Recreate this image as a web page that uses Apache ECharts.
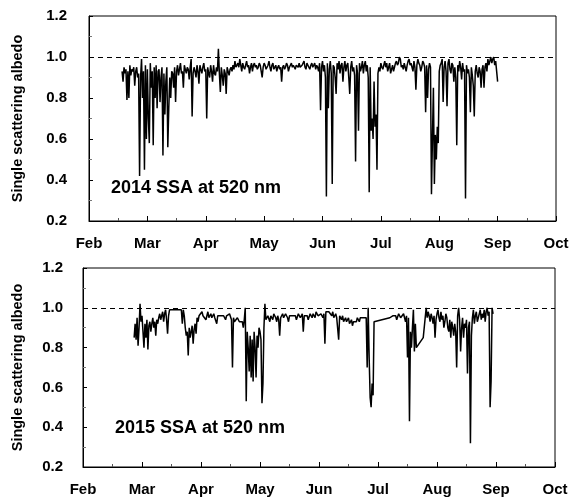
<!DOCTYPE html>
<html>
<head>
<meta charset="utf-8">
<script src="https://cdn.jsdelivr.net/npm/echarts@6/dist/echarts.min.js"></script>
<style>
html,body{margin:0;padding:0;background:#fff;}
#chart{width:573px;height:497px;}
</style>
</head>
<body>
<div id="chart"></div>
<script>
// Month tick labels (axis runs in days since 1 Feb, one label every 30 days)
var monthLabels = ['Feb','Mar','Apr','May','Jun','Jul','Aug','Sep','Oct'];
var yTicks = [0.2, 0.4, 0.6, 0.8, 1.0, 1.2];
var yAxisTitle = 'Single scattering albedo';
var panelLabels = ['2014 SSA at 520 nm', '2015 SSA at 520 nm'];
var referenceLevel = 1.0;

// 2014 SSA, samples every half day starting day 17 after 1 Feb
var ssa2014Start = 17;
var ssa2014Step = 0.5;
var ssa2014 = [
 0.93,0.88, 0.95,0.92, 0.94,0.79, 0.93,0.80, 0.96,0.91,
 0.94,0.93, 0.95,0.86, 0.93,0.95, 0.90,0.92, 0.42,0.90,
 0.99,0.80, 0.93,0.45, 0.96,0.60, 0.94,0.70, 0.58,0.97,
 0.85,0.93, 0.57,0.95, 0.80,0.96, 0.75,0.93, 0.94,0.78,
 0.90,0.95, 0.52,0.92, 0.72,0.88, 0.95,0.56, 0.75,0.90,
 0.80,0.93, 0.92,0.85, 0.95,0.78, 0.93,0.96, 0.91,0.94,
 0.97,0.92, 0.93,0.85, 0.96,0.94, 0.92,0.95, 0.94,0.89,
 0.95,0.99, 0.71,0.92, 0.95,0.93, 0.90,0.96, 0.93,0.87,
 0.96,0.94, 0.92,0.95, 0.97,0.93, 0.94,0.70, 0.95,0.92,
 0.90,0.96, 0.93,0.88, 0.96,0.92, 0.91,0.95, 0.93,1.04,
 0.92,0.83, 0.95,0.91, 0.86,0.94, 0.92,0.82, 0.95,0.93,
 0.91,0.94, 0.95,0.93, 0.96,0.94, 0.98,0.95, 0.96,0.97,
 0.95,0.99, 0.96,0.93, 0.97,0.95, 0.94,0.96, 0.98,0.95,
 0.96,0.92, 0.95,0.97, 0.93,0.96, 0.97,0.95, 0.96,0.94,
 0.95,0.97, 0.96,0.93, 0.90,0.95, 0.97,0.96, 0.94,0.95,
 0.96,0.98, 0.95,0.93, 0.96,0.97, 0.94,0.95, 0.96,0.93,
 0.95,0.96, 0.94,0.95, 0.88,0.95, 0.96,0.94, 0.95,0.97,
 0.96,0.93, 0.95,0.96, 0.97,0.95, 0.96,0.95, 0.94,0.96,
 0.96,0.95, 0.97,0.95, 0.95,0.96, 0.96,0.98, 0.95,0.94,
 0.97,0.96, 0.95,0.94, 0.96,0.97, 0.95,0.96, 0.97,0.94,
 0.96,0.95, 0.93,0.97, 0.74,0.95, 0.98,0.93, 0.96,0.90,
 0.32,0.97, 0.75,0.94, 0.98,0.92, 0.38,0.96, 0.95,0.90,
 0.82,0.97, 0.94,0.98, 0.92,0.96, 0.97,0.88, 0.95,0.98,
 0.93,0.96, 0.97,0.90, 0.82,0.95, 0.98,0.93, 0.95,0.91,
 0.49,0.96, 0.92,0.64, 0.97,0.93, 0.95,0.98, 0.92,0.96,
 0.98,0.93, 0.96,0.90, 0.34,0.95, 0.64,0.70, 0.60,0.88,
 0.66,0.72, 0.45,0.92, 0.95,0.93, 0.97,0.95, 0.94,0.96,
 0.98,0.95, 0.97,0.93, 0.95,0.97, 0.92,0.94, 0.96,0.93,
 0.95,0.97, 0.98,0.96, 0.97,1.00, 0.99,0.95, 0.96,0.94,
 0.97,0.95, 0.93,0.96, 0.98,0.99, 0.96,0.97, 0.95,0.93,
 0.98,0.95, 0.84,0.96, 0.99,0.97, 0.96,0.93, 0.95,0.98,
 0.97,0.95, 0.73,0.96, 0.80,0.94, 0.97,0.95, 0.33,0.60,
 0.85,0.38, 0.62,0.50, 0.66,0.58, 0.93,0.96, 0.97,0.99,
 0.78,0.95, 0.98,0.93, 0.76,0.97, 0.99,0.94, 0.92,0.97,
 0.96,0.88, 0.95,0.90, 0.57,0.96, 0.93,0.98, 0.95,0.89,
 0.97,0.93, 0.94,0.31, 0.96,0.92, 0.94,0.90, 0.73,0.95,
 0.91,0.86, 0.71,0.93, 0.96,0.92, 0.90,0.95, 0.93,0.85,
 0.94,0.96, 0.85,0.95, 0.97,0.93, 0.99,0.96, 0.98,1.00,
 0.97,0.99, 1.00,0.96, 0.98,0.93, 0.88
];

// 2015 SSA, samples every half day starting day 26 after 1 Feb (null = no data)
var ssa2015Start = 26;
var ssa2015Step = 0.5;
var ssa2015 = [
 0.85,0.92, 0.84,0.95, 0.81,0.90, 1.02,0.93, 0.96,0.88,
 0.80,0.92, 0.85,0.94, 0.79,0.91, 0.93,0.88, 0.92,0.95,
 0.90,0.93, 0.86,0.94, 0.92,0.95, 0.97,0.94, 0.96,0.98,
 0.93,0.97, 0.99,0.94, 0.87,0.96, 0.99,1.00, 1.00,0.99,
 1.00,0.98, 0.99,1.00, 1.00,0.99, 0.98,1.00, 0.99,0.92,
 0.99,0.96, 0.90,0.86, 0.88,0.76, 0.90,0.85, 0.88,0.91,
 0.82,0.89, 0.92,0.87, 0.95,0.93, 0.96,0.97, 0.95,0.98,
 0.96,0.95, 0.97,0.94, 0.96,0.98, 0.95,0.96, 0.97,0.95,
 0.96,0.97, 0.95,0.96, 0.92,0.96, 0.97,0.95, 0.96,0.97,
 0.95,0.96, 0.97,0.94, 0.96,0.95, 0.95,0.97, 0.96,0.94,
 0.70,0.95, 0.93,0.94, 0.92,0.95, 0.94,0.93, 0.92,0.94,
 0.93,0.90, 0.94,1.00, 0.53,0.88, 0.80,0.68, 0.86,0.65,
 0.84,0.63, 0.88,0.80, 0.65,0.86, 0.80,0.90, 0.88,0.84,
 0.52,0.62, 0.90,1.02, 0.94,0.93, 0.96,0.95, 0.93,0.96,
 0.95,0.94, 0.97,0.96, 0.95,0.93, 0.96,0.94, 0.86,0.95,
 0.96,0.97, 0.95,0.94, 0.97,0.96, 0.95,0.93, 0.96,0.97,
 0.95,0.96, 0.97,0.95, 0.96,0.94, 0.94,0.97, 0.96,0.95,
 0.95,0.97, 0.88,0.96, 0.97,0.95, 0.96,0.94, 0.95,0.97,
 0.96,0.95, 0.97,0.96, 0.95,0.98, 0.97,0.96, 0.96,0.95,
 0.97,0.98, 0.95,0.97, 0.82,0.98, 0.99,0.97, 0.98,0.99,
 0.97,0.96, 0.98,0.95, 0.96,0.97, 0.95,0.96, 0.84,0.96,
 0.95,0.94, 0.96,0.93, 0.94,0.95, 0.93,0.94, 0.95,0.92,
 0.93,0.94, 0.91,0.93, 0.94,0.92, 0.93,0.95, 0.94,0.93,
 0.95,0.94, 0.96,0.95, 0.94,0.96, 0.95,0.70, 1.00,0.75,
 0.55,0.50, 0.62,0.56, 0.93,null, null,null, null,null,
 null,null, null,null, null,null, null,null, null,null,
 0.95,0.96, 0.94,0.96, 0.97,0.95, 0.96,0.94, 0.95,0.97,
 0.96,0.95, 0.94,0.96, 0.97,0.95, 0.93,0.96, 0.75,0.95,
 0.43,0.88, 0.80,0.90, 0.99,0.78, 0.92,0.80, 0.81,null,
 null,null, null,null, 0.85,null, null,1.00, 0.95,0.98,
 0.96,0.93, 0.97,0.95, 0.92,0.96, 0.85,0.94, 0.97,0.99,
 0.95,0.93, 0.98,0.94, 0.96,0.90, 0.93,0.97, 0.95,0.90,
 0.88,0.94, 0.85,0.93, 0.90,0.86, 0.92,0.88, 0.70,0.96,
 1.00,0.94, 0.78,0.90, 0.95,0.85, 0.92,0.90, 0.94,0.67,
 0.90,0.93, 0.32,0.86, 0.95,0.99, 0.92,0.96, 0.98,0.93,
 0.95,0.97, 0.99,0.94, 0.97,0.95, 0.99,0.93, 0.98,1.00,
 0.96,0.98, 0.50,0.63, 1.00,0.97
];

function toPairs(start, step, vals) {
  return vals.map(function (v, i) { return [start + i * step, v]; });
}

var FONT = '"Liberation Sans", Arial, sans-serif';

function xAxisDef(gi) {
  return {
    type: 'value', gridIndex: gi, min: 0, max: 240, interval: 30,
    axisLine: { show: true, onZero: false, lineStyle: { color: '#000', width: 1 } },
    axisTick: { show: true, inside: true, length: 5, lineStyle: { color: '#000' } },
    minorTick: { show: true, splitNumber: 2, length: 3, lineStyle: { color: '#555' } },
    splitLine: { show: false },
    axisLabel: {
      margin: 15, color: '#000', fontFamily: FONT, fontWeight: 'bold', fontSize: 15,
      formatter: function (v) { return monthLabels[Math.round(v / 30)] || ''; }
    }
  };
}
function yAxisDef(gi, gap, lmargin) {
  return {
    type: 'value', gridIndex: gi, min: yTicks[0], max: yTicks[yTicks.length - 1], interval: 0.2,
    name: yAxisTitle, nameLocation: 'middle', nameGap: gap, nameRotate: 90,
    nameTextStyle: { color: '#000', fontFamily: FONT, fontWeight: 'bold', fontSize: 14.5 },
    axisLine: { show: true, lineStyle: { color: '#000', width: 1 } },
    axisTick: { show: true, inside: true, length: 4, lineStyle: { color: '#000' } },
    minorTick: { show: true, splitNumber: 2, length: 3, lineStyle: { color: '#777' } },
    splitLine: { show: false },
    axisLabel: {
      margin: lmargin, color: '#000', fontFamily: FONT, fontWeight: 'bold', fontSize: 15,
      formatter: function (v) { return v.toFixed(1); }
    }
  };
}
function seriesDef(gi, data) {
  return {
    type: 'line', xAxisIndex: gi, yAxisIndex: gi, data: data,
    showSymbol: false, symbol: 'none', connectNulls: true, sampling: null,
    lineStyle: { color: '#000', width: 1.5 },
    markLine: {
      silent: true, symbol: 'none', label: { show: false },
      lineStyle: { color: '#000', type: [5, 4], width: 1 },
      data: [{ yAxis: referenceLevel }]
    },
    animation: false
  };
}

var chart = echarts.init(document.getElementById('chart'), null, { renderer: 'canvas' });
chart.setOption({
  backgroundColor: '#fff',
  animation: false,
  grid: [
    { left: 89, top: 16, width: 467, height: 205, show: true, borderColor: '#000', borderWidth: 1, backgroundColor: 'transparent' },
    { left: 83, top: 268, width: 472, height: 199, show: true, borderColor: '#000', borderWidth: 1, backgroundColor: 'transparent' }
  ],
  xAxis: [xAxisDef(0), xAxisDef(1)],
  yAxis: [yAxisDef(0, 64, 22), yAxisDef(1, 58, 20)],
  series: [
    seriesDef(0, toPairs(ssa2014Start, ssa2014Step, ssa2014)),
    seriesDef(1, toPairs(ssa2015Start, ssa2015Step, ssa2015))
  ],
  graphic: [
    { type: 'text', left: 111, top: 179, style: { text: panelLabels[0], fill: '#000', font: 'bold 18px ' + FONT } },
    { type: 'text', left: 115, top: 419, style: { text: panelLabels[1], fill: '#000', font: 'bold 18px ' + FONT } }
  ]
});
</script>
</body>
</html>
